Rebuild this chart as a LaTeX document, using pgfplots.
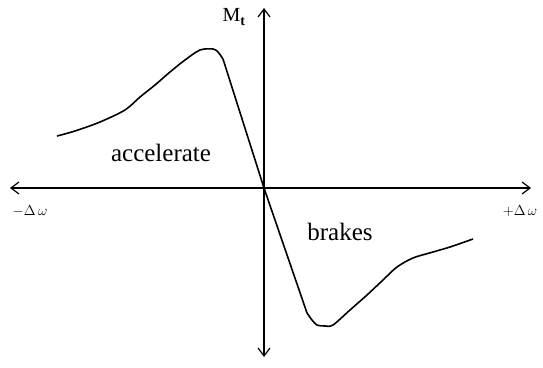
\documentclass[border=0pt]{standalone}
\usepackage{fontspec}
\setmainfont{Liberation Serif}
\usepackage{pgfplots}
\pgfplotsset{compat=1.18}
\usetikzlibrary{arrows.meta}

\begin{document}
\begin{tikzpicture}
\begin{axis}[
  scale only axis, width=543pt, height=367pt,
  xmin=-264, xmax=279, ymin=-179, ymax=188,
  axis lines=none, clip=false,
]
% axes drawn by hand (open barbs at both ends)
\draw[line width=1.2pt, {Straight Barb[length=8pt,width=12pt]}-{Straight Barb[length=8pt,width=12pt]}]
  (axis cs:-254,0) -- (axis cs:267,0);
\draw[line width=2.8pt] (axis cs:0,-168) -- (axis cs:0,179);
\draw[line width=1.2pt, {Straight Barb[length=8pt,width=12pt]}-{Straight Barb[length=8pt,width=12pt]}]
  (axis cs:0,-169) -- (axis cs:0,180);

\addplot[black, line width=1.6pt, smooth, tension=0.5] coordinates {
  (-207,52) (-189,57) (-164,66) (-139,78) (-124,91) (-109,103) (-94,116)
  (-79,128) (-64,138) (-51,139) (-46,136) (-41,129)
};
\addplot[black, line width=1.6pt] coordinates {(-41,129) (0,0) (43,-125)};
\addplot[black, line width=1.6pt, smooth, tension=0.5] coordinates {
  (43,-125) (48,-132) (53,-137) (61,-138) (69,-137) (86,-122) (103,-107)
  (119,-92) (133,-79) (149,-70) (169,-64) (186,-59) (209,-51)
};

\node[font=\fontsize{25}{30}\selectfont] at (axis cs:-103,35) {accelerate};
\node[font=\fontsize{25}{30}\selectfont] at (axis cs:76,-44) {brakes};
\node[font=\fontsize{20}{22}\selectfont] at (axis cs:-30,171) {$\mathrm{M}_{\mathbf{t}}$};
\node[font=\fontsize{15}{17}\selectfont] at (axis cs:-234,-23) {$-\Delta\,\omega$};
\node[font=\fontsize{15}{17}\selectfont] at (axis cs:256,-23) {$+\Delta\,\omega$};
\end{axis}
\path (current axis.south west) rectangle (current axis.north east);
\end{tikzpicture}
\end{document}
